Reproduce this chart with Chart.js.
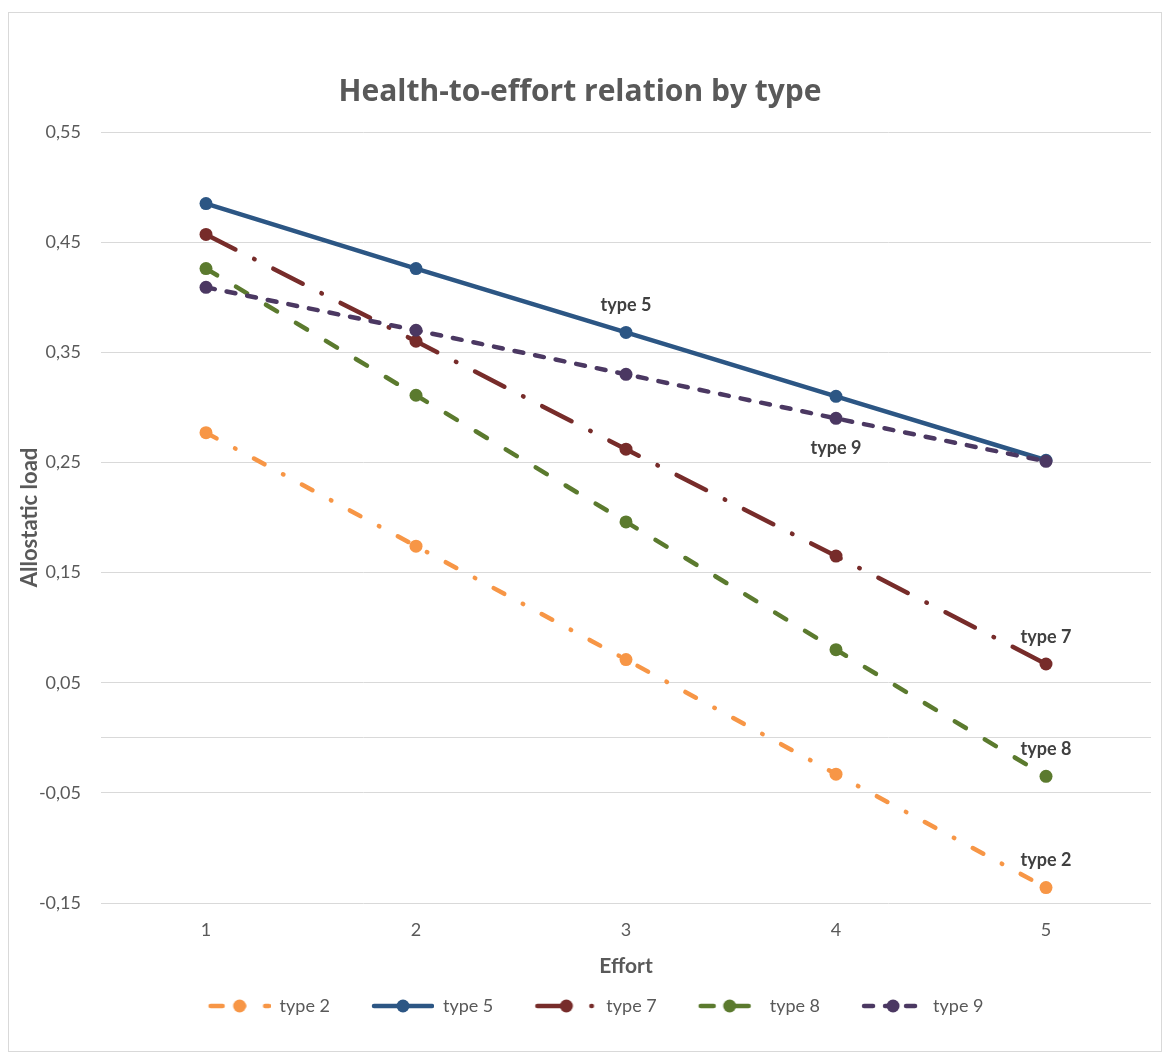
<!DOCTYPE html>
<html>
<head>
<meta charset="utf-8">
<title>Health-to-effort relation by type</title>
<script src="https://cdn.jsdelivr.net/npm/chart.js@4.4.1/dist/chart.umd.min.js"></script>
<style>
  body { margin: 0; background: #fff; }
  #wrap { position: absolute; left: 8px; top: 12px; width: 1152px; height: 1038px; border: 1px solid #d9d9d9; background: #fff; }
</style>
</head>
<body>
<div id="wrap"><canvas id="chart1"></canvas></div>
<script>
// effort levels and allostatic load per type
const effort = ['1', '2', '3', '4', '5'];
const type2 = [0.277, 0.174, 0.071, -0.033, -0.136];
const type5 = [0.485, 0.426, 0.368, 0.310, 0.252];
const type7 = [0.457, 0.360, 0.262, 0.165, 0.067];
const type8 = [0.426, 0.311, 0.196, 0.080, -0.035];
const type9 = [0.409, 0.370, 0.330, 0.290, 0.251];

const yTicks = [-0.15, -0.05, 0.05, 0.15, 0.25, 0.35, 0.45, 0.55];
const yZero = 0; // horizontal axis line

Chart.defaults.font.family = 'Lato, "Open Sans", sans-serif';
Chart.defaults.color = '#595959';

// line look per series
const looks = [
  { color: '#f79646', dash: [12, 21, 0.5, 21] },
  { color: '#2c5684', dash: [] },
  { color: '#772c2a', dash: [33, 21, 0.5, 21] },
  { color: '#5b7a2e', dash: [13, 22] },
  { color: '#4b3862', dash: [9, 12] }
];

// legend sample: dashed line with the marker in the middle
function sample(look) {
  const c = document.createElement('canvas');
  c.width = 94;
  c.height = 16;
  const g = c.getContext('2d');
  g.strokeStyle = look.color;
  g.lineWidth = 4.5;
  g.lineCap = 'round';
  g.setLineDash(look.dash);
  g.beginPath();
  g.moveTo(34, 8);
  g.lineTo(92, 8);
  g.stroke();
  g.fillStyle = look.color;
  g.beginPath();
  g.arc(63, 8, 6.5, 0, Math.PI * 2);
  g.fill();
  return c;
}

// series names written next to chosen points
const tagSpots = [
  { ds: 1, i: 2, dy: -27 },
  { ds: 4, i: 3, dy: 30 },
  { ds: 2, i: 4, dy: -27 },
  { ds: 3, i: 4, dy: -27 },
  { ds: 0, i: 4, dy: -27 }
];

const seriesTags = {
  id: 'seriesTags',
  afterDatasetsDraw(chart) {
    const ctx = chart.ctx;
    ctx.save();
    ctx.font = 'bold 18px Lato, "Open Sans", sans-serif';
    ctx.fillStyle = '#404040';
    ctx.textAlign = 'center';
    ctx.textBaseline = 'middle';
    tagSpots.forEach(function (s) {
      const pt = chart.getDatasetMeta(s.ds).data[s.i];
      ctx.fillText(chart.data.datasets[s.ds].label, pt.x, pt.y + s.dy);
    });
    ctx.restore();
  }
};

function line(label, values, k) {
  const look = looks[k];
  return {
    label: label,
    data: values,
    borderColor: look.color,
    backgroundColor: look.color,
    borderWidth: 4.5,
    borderDash: look.dash,
    borderCapStyle: 'round',
    pointRadius: 6.5,
    pointHoverRadius: 6.5,
    pointBorderWidth: 0,
    pointBackgroundColor: look.color,
    tension: 0,
    fill: false,
    order: 5 - k // later series on top
  };
}

const data = {
  labels: effort,
  datasets: [
    line('type 2', type2, 0),
    line('type 5', type5, 1),
    line('type 7', type7, 2),
    line('type 8', type8, 3),
    line('type 9', type9, 4)
  ]
};

const config = {
  type: 'line',
  data: data,
  options: {
    responsive: true,
    maintainAspectRatio: false,
    animation: false,
    layout: { padding: { top: 0, right: 10, bottom: 26, left: 0 } },
    scales: {
      x: {
        offset: true,
        grid: { display: false, drawTicks: false },
        border: { display: false },
        ticks: { font: { size: 18 }, color: '#595959', padding: 16 },
        title: {
          display: true,
          text: 'Effort',
          font: { size: 21, weight: 'bold' },
          color: '#595959',
          padding: { top: 0, bottom: 8 }
        },
        afterFit: function (scale) { scale.height = 84; }
      },
      y: {
        min: -0.15,
        max: 0.55,
        grid: { color: '#d9d9d9', lineWidth: 1, drawTicks: false },
        border: { display: false },
        afterBuildTicks: function (scale) {
          scale.ticks = yTicks.concat([yZero]).sort(function (a, b) { return a - b; })
            .map(function (v) { return { value: v }; });
        },
        ticks: {
          font: { size: 18 },
          color: '#595959',
          padding: 20,
          callback: function (v) {
            return yTicks.indexOf(v) >= 0 ? v.toFixed(2).replace('.', ',') : '';
          }
        },
        title: {
          display: true,
          text: 'Allostatic load',
          font: { size: 22, weight: 'bold' },
          color: '#595959',
          padding: { top: 8, bottom: 0 }
        },
        afterFit: function (scale) { scale.width = 92; }
      }
    },
    plugins: {
      title: {
        display: true,
        text: 'Health-to-effort relation by type',
        font: { family: '"Open Sans", Lato, sans-serif', size: 30, weight: 'bold' },
        color: '#595959',
        padding: { top: 61, bottom: 22 }
      },
      legend: {
        position: 'bottom',
        labels: {
          usePointStyle: true,
          pointStyleWidth: 94,
          padding: 10,
          font: { size: 18 },
          color: '#595959',
          sort: function (a, b) { return a.datasetIndex - b.datasetIndex; },
          generateLabels: function (chart) {
            const items = Chart.defaults.plugins.legend.labels.generateLabels(chart);
            items.forEach(function (it) { it.pointStyle = sample(looks[it.datasetIndex]); });
            return items;
          }
        }
      },
      tooltip: { enabled: false }
    }
  },
  plugins: [seriesTags]
};

const myChart = new Chart(
  document.getElementById('chart1'),
  config
);
</script>
</body>
</html>
